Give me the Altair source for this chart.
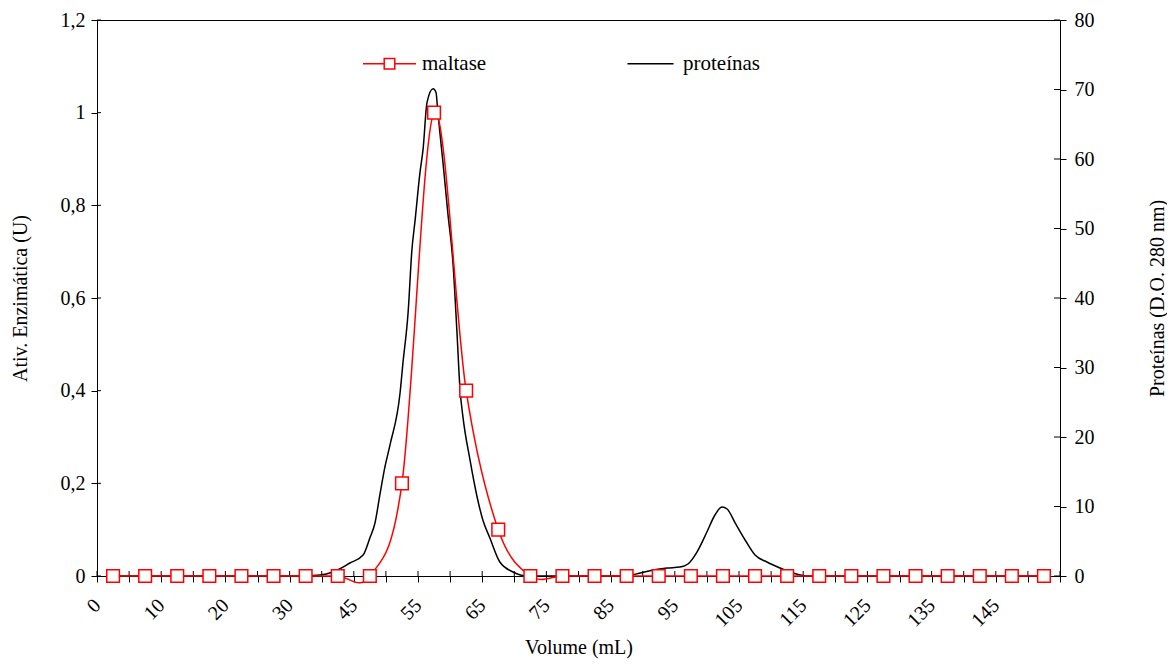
import altair as alt
import pandas as pd

# ---- data ----
# maltase activity (U) at each of the 30 collected fractions (category axis)
maltase = [0, 0, 0, 0, 0, 0, 0, 0, 0, 0.2, 1.0, 0.4, 0.1,
           0, 0, 0, 0, 0, 0, 0, 0, 0, 0, 0, 0, 0, 0, 0, 0, 0]
# protein trace (D.O. 280 nm), position in fraction units along the same axis
prot_pos = [0.5, 6.3, 6.95, 7.35, 7.88, 8.29, 8.5, 8.66, 8.82, 8.97, 9.13, 9.44,
            9.53, 9.69, 9.81, 9.91, 10.06, 10.16, 10.28, 10.47, 10.56, 10.62,
            10.78, 10.93, 11.09, 11.21, 11.31, 11.40, 11.62, 11.84, 12.02, 12.24,
            12.55, 12.96, 13.4, 15.67, 16.45, 16.92, 17.32, 17.76, 18.16, 18.41,
            18.69, 19.0, 19.25, 19.47, 19.63, 19.88, 20.19, 20.5, 20.87, 21.28,
            21.68, 22.12, 29.5]
prot_val = [0, 0, 0.14, 0.58, 1.87, 3.02, 5.47, 7.63, 11.9, 15.7, 18.9, 26.3,
            30.6, 37.8, 46.9, 51.2, 58.0, 61.5, 68.1, 70.1, 69.6, 66.6,
            59.4, 52.2, 45.0, 35.4, 26.8, 22.9, 16.7, 11.4, 8.06, 5.47,
            2.01, 0.58, 0, 0, 0, 0.43, 0.86, 1.15, 1.29, 1.73,
            3.45, 6.33, 8.78, 9.93, 9.64, 7.63, 5.18, 3.02, 2.01, 1.15,
            0.43, 0, 0]
x_labels = ["0", "10", "20", "30", "45", "55", "65", "75", "85", "95",
            "105", "115", "125", "135", "145"]
left_ticks = [0, 0.2, 0.4, 0.6, 0.8, 1, 1.2]
right_ticks = [0, 10, 20, 30, 40, 50, 60, 70, 80]
series = ["maltase", "proteínas"]
n_cat = len(maltase)

W, H = 963, 556
FONT = "Liberation Serif"
FS = 20

df_m = pd.DataFrame({"x": [i + 0.5 for i in range(n_cat)], "maltase": maltase})
df_leg = pd.DataFrame({"x": [0.5, 0.5], "maltase": [0, 0], "series": series})
df_p = pd.DataFrame({"x": prot_pos, "prot": prot_val})
df_xt = pd.DataFrame({"x": list(range(n_cat + 1))})
df_lt = pd.DataFrame({"maltase": left_ticks})
df_rt = pd.DataFrame({"prot": right_ticks})

js_labels = "[" + ",".join("'%s'" % s for s in x_labels) + "]"
x_scale = alt.Scale(domain=[0, n_cat], nice=False, zero=False)
x_axis = alt.Axis(
    values=list(range(n_cat + 1)),
    labelExpr=f"datum.value % 2 === 0 && datum.value < {n_cat} ? {js_labels}[datum.value / 2] : ''",
    labelAngle=315, labelAlign="right", labelBaseline="middle", labelPadding=20,
    labelOverlap=False, labelFlush=False,
    tickSize=6, tickColor="black", domainColor="black", grid=False,
    title="Volume (mL)", titleY=71, titleX=W / 2, titleBaseline="middle",
    titleAlign="center",
)
X = alt.X("x:Q", scale=x_scale, axis=x_axis)

yl_scale = alt.Scale(domain=[0, 1.2], nice=False, zero=True)
yl_axis = alt.Axis(
    orient="left", values=left_ticks,
    labelExpr="replace(format(datum.value, '~g'), '.', ',')",
    tickSize=6, labelPadding=6, tickColor="black", domainColor="black", grid=False,
    title="Ativ. Enzimática (U)", titleAngle=270, titleX=-77, titleY=H / 2,
    titleBaseline="middle", titleAlign="center",
)
YL = alt.Y("maltase:Q", scale=yl_scale, axis=yl_axis)

yr_scale = alt.Scale(domain=[0, 80], nice=False, zero=True)
yr_axis = alt.Axis(
    orient="right", values=right_ticks,
    tickSize=6, labelPadding=8, tickColor="black", domainColor="black", grid=False,
    title="Proteínas (D.O. 280 nm)", titleAngle=270, titleX=97, titleY=H / 2,
    titleBaseline="middle", titleAlign="center",
)
YR = alt.Y("prot:Q", scale=yr_scale, axis=yr_axis)

sym_paths = ["M-1,0H-0.2M0.2,0H1M-0.2,-0.2H0.2V0.2H-0.2Z", "M-0.87,0H0.87"]
legend = alt.Legend(
    title=None, orient="none", legendX=265, legendY=16, direction="horizontal",
    columns=2, columnPadding=136, symbolSize=2809, symbolStrokeWidth=1.5,
    symbolOffset=0, labelOffset=5, labelFont=FONT, labelFontSize=21,
    labelColor="black", padding=0, symbolOpacity=1, symbolFillColor="white",
)

# ---- protein (right axis) ----
prot_line = alt.Chart(df_p).mark_line(
    color="black", strokeWidth=1.5, interpolate="monotone"
).encode(x=X, y=YR)
prot_ticks = alt.Chart(df_rt).mark_rule(color="black", strokeWidth=1).encode(
    y=YR, x=alt.value(W - 6), x2=alt.value(W))
right = alt.layer(prot_line, prot_ticks)

# ---- maltase (left axis) ----
malt_line = alt.Chart(df_m).mark_line(
    color="red", strokeWidth=1.5, interpolate="cardinal"
).encode(x=X, y=YL)
malt_pts = alt.Chart(df_m).mark_point(
    shape="square", size=160, strokeWidth=1.5, fill="white", stroke="red",
    opacity=1, fillOpacity=1, filled=True
).encode(x=X, y=YL)
leg_layer = alt.Chart(df_leg).mark_point(opacity=0, size=10, filled=False).encode(
    x=X, y=YL,
    color=alt.Color("series:N", scale=alt.Scale(domain=series, range=["red", "black"]),
                    legend=legend),
    shape=alt.Shape("series:N", scale=alt.Scale(domain=series, range=sym_paths),
                    legend=legend),
)
left_ticks_l = alt.Chart(df_lt).mark_rule(color="black", strokeWidth=1).encode(
    y=YL, x=alt.value(0), x2=alt.value(4))
x_ticks_l = alt.Chart(df_xt).mark_rule(color="black", strokeWidth=1).encode(
    x=X, y=alt.value(H - 5), y2=alt.value(H))
left = alt.layer(left_ticks_l, x_ticks_l, malt_line, malt_pts, leg_layer)

chart = alt.layer(right, left).resolve_scale(y="independent").properties(
    width=W, height=H,
    autosize=alt.AutoSizeParams(type="none"),
    padding={"left": 89, "top": 12, "right": 107, "bottom": 85},
    background="white",
).configure_view(stroke="black", strokeWidth=1).configure_axis(
    labelFont=FONT, labelFontSize=FS, labelColor="black",
    titleFont=FONT, titleFontSize=FS, titleColor="black", titleFontWeight="normal",
    domainWidth=1, tickWidth=1,
)

chart.save("out.html", embed_options={"renderer": "svg", "actions": False})
